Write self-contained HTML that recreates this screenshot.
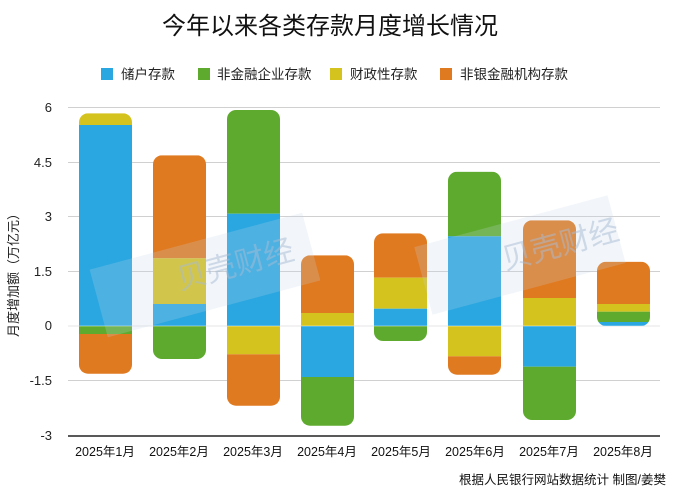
<!DOCTYPE html>
<html><head><meta charset="utf-8"><style>
body{margin:0;background:#fff;}
svg{display:block;font-family:"Liberation Sans","Noto Sans CJK SC",sans-serif;}
</style></head><body>
<svg width="677" height="500" viewBox="0 0 677 500" xmlns="http://www.w3.org/2000/svg">
<text x="330" y="34" font-size="24" text-anchor="middle" fill="#111">今年以来各类存款月度增长情况</text>
<rect x="101" y="68" width="12" height="12" fill="#2aa7e0"/><text x="121" y="79" font-size="13.5" fill="#222">储户存款</text>
<rect x="198" y="68" width="12" height="12" fill="#5eaa2e"/><text x="217" y="79" font-size="13.5" fill="#222">非金融企业存款</text>
<rect x="330" y="68" width="12" height="12" fill="#d4c21e"/><text x="350" y="79" font-size="13.5" fill="#222">财政性存款</text>
<rect x="440" y="68" width="12" height="12" fill="#e07a20"/><text x="460" y="79" font-size="13.5" fill="#222">非银金融机构存款</text>
<g stroke="#d0d0d0" stroke-width="1">
<line x1="68" x2="660" y1="107.5" y2="107.5"/><line x1="68" x2="660" y1="162.5" y2="162.5"/>
<line x1="68" x2="660" y1="216.5" y2="216.5"/><line x1="68" x2="660" y1="271.5" y2="271.5"/>
<line x1="68" x2="660" y1="326" y2="326"/><line x1="68" x2="660" y1="380.5" y2="380.5"/>
</g>
<line x1="68" x2="660" y1="436" y2="436" stroke="#222" stroke-width="1.5"/>
<g font-size="13" fill="#222" text-anchor="end">
<text x="52" y="112">6</text><text x="52" y="167">4.5</text><text x="52" y="221">3</text>
<text x="52" y="276">1.5</text><text x="52" y="330">0</text><text x="52" y="385">-1.5</text><text x="52" y="440">-3</text>
</g>
<text transform="translate(18,272) rotate(-90)" font-size="13" fill="#222" text-anchor="middle">月度增加额（万亿元）</text>
<defs>
<clipPath id="c1"><rect x="79" y="113.3" width="53" height="260.4" rx="9"/></clipPath>
<clipPath id="c2"><rect x="153" y="155.3" width="53" height="203.7" rx="9"/></clipPath>
<clipPath id="c3"><rect x="227" y="110" width="53" height="295.7" rx="9"/></clipPath>
<clipPath id="c4"><rect x="301" y="255.3" width="53" height="170.4" rx="9"/></clipPath>
<clipPath id="c5"><rect x="374" y="233.3" width="53" height="107.7" rx="9"/></clipPath>
<clipPath id="c6"><rect x="448" y="171.7" width="53" height="203" rx="9"/></clipPath>
<clipPath id="c7"><rect x="523" y="220.3" width="53" height="199.7" rx="9"/></clipPath>
<clipPath id="c8"><rect x="597" y="261.7" width="53" height="64.3" rx="9"/></clipPath>
</defs>
<g clip-path="url(#c1)">
<rect x="79" y="113.3" width="53" height="11.7" fill="#d4c21e"/><rect x="79" y="125" width="53" height="201" fill="#2aa7e0"/>
<rect x="79" y="326" width="53" height="8" fill="#5eaa2e"/><rect x="79" y="334" width="53" height="40" fill="#e07a20"/></g>
<g clip-path="url(#c2)">
<rect x="153" y="155.3" width="53" height="103" fill="#e07a20"/><rect x="153" y="258.3" width="53" height="45.7" fill="#d4c21e"/>
<rect x="153" y="304" width="53" height="22" fill="#2aa7e0"/><rect x="153" y="326" width="53" height="33" fill="#5eaa2e"/></g>
<g clip-path="url(#c3)">
<rect x="227" y="110" width="53" height="103.7" fill="#5eaa2e"/><rect x="227" y="213.7" width="53" height="112.3" fill="#2aa7e0"/>
<rect x="227" y="326" width="53" height="28.3" fill="#d4c21e"/><rect x="227" y="354.3" width="53" height="52" fill="#e07a20"/></g>
<g clip-path="url(#c4)">
<rect x="301" y="255.3" width="53" height="57.7" fill="#e07a20"/><rect x="301" y="313" width="53" height="13" fill="#d4c21e"/>
<rect x="301" y="326" width="53" height="51" fill="#2aa7e0"/><rect x="301" y="377" width="53" height="49" fill="#5eaa2e"/></g>
<g clip-path="url(#c5)">
<rect x="374" y="233.3" width="53" height="44.4" fill="#e07a20"/><rect x="374" y="277.7" width="53" height="31" fill="#d4c21e"/>
<rect x="374" y="308.7" width="53" height="17.3" fill="#2aa7e0"/><rect x="374" y="326" width="53" height="15" fill="#5eaa2e"/></g>
<g clip-path="url(#c6)">
<rect x="448" y="171.7" width="53" height="64.6" fill="#5eaa2e"/><rect x="448" y="236.3" width="53" height="89.7" fill="#2aa7e0"/>
<rect x="448" y="326" width="53" height="30.3" fill="#d4c21e"/><rect x="448" y="356.3" width="53" height="19" fill="#e07a20"/></g>
<g clip-path="url(#c7)">
<rect x="523" y="220.3" width="53" height="77.7" fill="#e07a20"/><rect x="523" y="298" width="53" height="28" fill="#d4c21e"/>
<rect x="523" y="326" width="53" height="40.7" fill="#2aa7e0"/><rect x="523" y="366.7" width="53" height="54" fill="#5eaa2e"/></g>
<g clip-path="url(#c8)">
<rect x="597" y="261.7" width="53" height="42.3" fill="#e07a20"/><rect x="597" y="304" width="53" height="7.7" fill="#d4c21e"/>
<rect x="597" y="311.7" width="53" height="10.3" fill="#5eaa2e"/><rect x="597" y="322" width="53" height="4" fill="#2aa7e0"/></g>
<line x1="68" x2="660" y1="326" y2="326" stroke="#fff" stroke-width="0.8" opacity="0.6"/>
<g fill="#c8d8ea" opacity="0.22">
<rect x="95" y="240" width="220" height="70" transform="rotate(-15 205 275)"/>
<rect x="420" y="220" width="200" height="70" transform="rotate(-15 520 255)"/>
</g>
<g fill="#a9bcd6" opacity="0.5" font-size="30">
<text x="180" y="290" transform="rotate(-15 180 290)">贝壳财经</text>
<text x="505" y="270" transform="rotate(-15 505 270)">贝壳财经</text>
</g>
<g font-size="12.5" fill="#111" text-anchor="middle">
<text x="105" y="456">2025年1月</text><text x="179" y="456">2025年2月</text><text x="253" y="456">2025年3月</text>
<text x="327" y="456">2025年4月</text><text x="401" y="456">2025年5月</text><text x="475" y="456">2025年6月</text>
<text x="549" y="456">2025年7月</text><text x="623" y="456">2025年8月</text>
</g>
<text x="666" y="484" font-size="12.5" fill="#111" text-anchor="end">根据人民银行网站数据统计 制图/姜樊</text>
</svg>
</body></html>
